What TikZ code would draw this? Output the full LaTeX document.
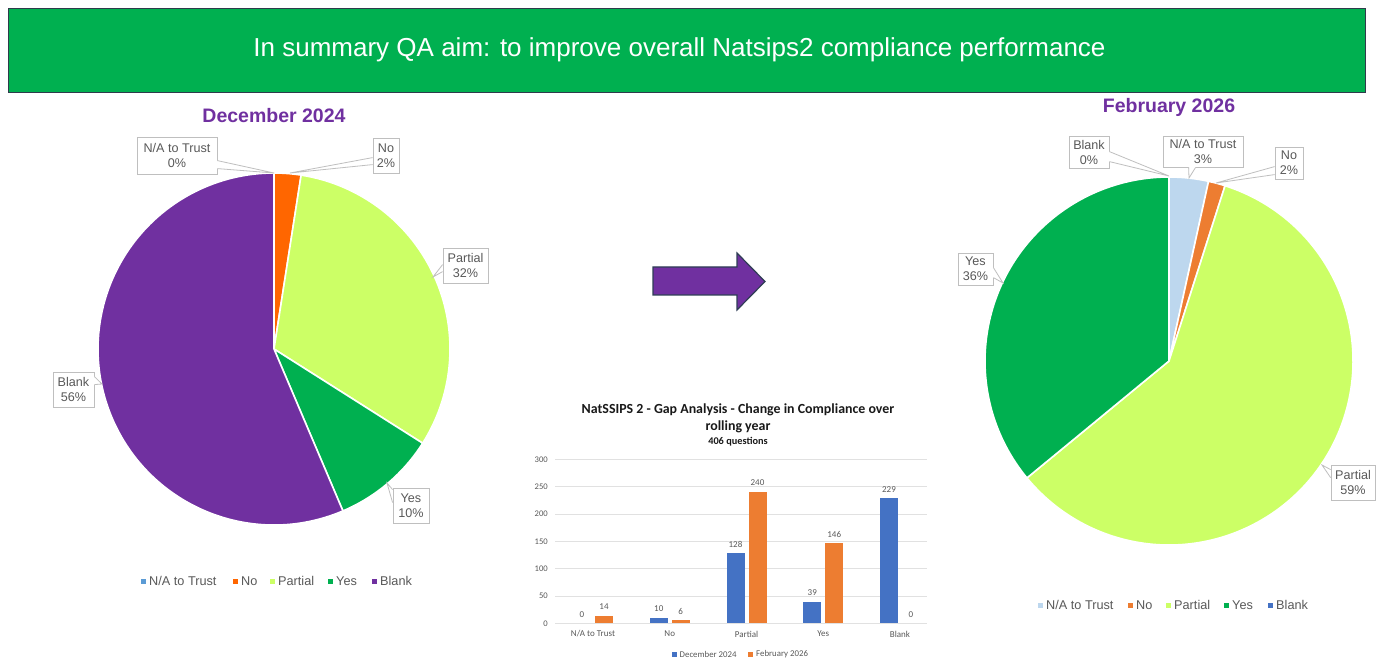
\documentclass[tikz,border=0pt]{standalone}
\usepackage{fontspec}
\setmainfont{Liberation Sans}
\newfontfamily\calfont{Carlito}
\usetikzlibrary{calc}

\definecolor{bannergreen}{HTML}{00B050}
\definecolor{bannerline}{HTML}{2F3B4C}
\definecolor{aimpurple}{HTML}{7030A0}
\definecolor{yesgreen}{HTML}{00B050}
\definecolor{partlime}{HTML}{CCFF66}
\definecolor{nored}{HTML}{FF6600}
\definecolor{noorange}{HTML}{ED7D31}
\definecolor{nablue}{HTML}{5B9BD5}
\definecolor{nalight}{HTML}{BDD7EE}
\definecolor{blankblue}{HTML}{4472C4}
\definecolor{txtgray}{HTML}{595959}
\definecolor{lblgray}{HTML}{BFBFBF}
\definecolor{gridgray}{HTML}{D9D9D9}
\definecolor{arrowline}{HTML}{2F3E55}

% one pie slice: centre, radius, start angle, end angle, colour
\newcommand\pieslice[5]{%
  \filldraw[slice, fill=#5] (#1) -- ++(#3:#2) arc[start angle=#3, end angle=#4, radius=#2] -- cycle;}
% pointer of a data label: base point, tip, base point
\newcommand\calloutwedge[3]{%
  \fill[white] #1 -- (#2) -- #3 -- cycle;
  \draw[white, line width=1.3pt] #1 -- #3;
  \draw[lblline] #1 -- (#2) -- #3;}
% legend entry: marker centre, colour, node name, text
\newcommand\legitem[4]{%
  \fill[#2] ($(#1)+(-2.5,-2.5)$) rectangle ++(5,5);
  \node[legtext] (#3) at ($(#1)+(6,0)$) {#4};}

\begin{document}
\begin{tikzpicture}[x=1pt, y=1pt, yscale=-1,
  slice/.style={draw=white, line width=1.6pt, line join=round},
  lbl/.style={draw=lblgray, fill=white, text=txtgray, line width=0.8pt, inner sep=0pt,
    align=center, font=\fontsize{12.6}{15}\selectfont},
  lblline/.style={draw=lblgray, line width=0.8pt},
  legtext/.style={text=txtgray, font=\fontsize{12.7}{15}\selectfont, anchor=west, inner sep=0pt},
  pietitle/.style={text=aimpurple, font=\bfseries\fontsize{19.5}{23}\selectfont},
  bctitle/.style={text=black!90, inner sep=0pt},
  axlbl/.style={text=txtgray, font=\calfont\fontsize{8.6}{10}\selectfont, inner sep=0pt},
  gridline/.style={draw=gridgray!80, line width=0.7pt},
  barblue/.style={fill=blankblue},
  barorange/.style={fill=noorange}
]
\useasboundingbox (0,0) rectangle (1376,660);
\fill[white] (0,0) rectangle (1376,660);

% banner
\node[draw=bannerline, line width=1.5pt, fill=bannergreen, minimum width=1357pt, minimum height=84pt,
  inner sep=0pt] (banner) at (687,50.5) {};
\node[text=white, font=\fontsize{26}{30}\selectfont, inner sep=0pt] (bannerText) at (679.5,50)
  {In summary QA aim: to improve overall Natsips2 compliance performance};

% ---------- December 2024 pie ----------
\node[pietitle] (decTitle) at (274,116) {December 2024};
\coordinate (pL) at (274,349);
\pieslice{pL}{176}{-90}{-81.133}{nored}
\pieslice{pL}{176}{-81.133}{32.365}{partlime}
\pieslice{pL}{176}{32.365}{66.946}{yesgreen}
\pieslice{pL}{176}{66.946}{270}{aimpurple}

\node[lbl, minimum width=80pt, minimum height=37pt] (lNA) at (177,155.5) {N/A to Trust\\0\%};
\coordinate (lNAt) at (274,173);
\calloutwedge{($(lNA.north east)+(0,24)$)}{lNAt}{($(lNA.north east)+(0,32)$)}

\node[lbl, minimum width=26pt, minimum height=35pt] (lNo) at (386,155.5) {No\\2\%};
\coordinate (lNot) at (290,173);
\calloutwedge{($(lNo.north west)+(0,20)$)}{lNot}{($(lNo.north west)+(0,27)$)}

\node[lbl, minimum width=45pt, minimum height=35pt] (lPa) at (465.5,265.5) {Partial\\32\%};
\coordinate (lPat) at (433,277);
\calloutwedge{($(lPa.north west)+(0,17)$)}{lPat}{($(lPa.north west)+(0,24)$)}

\node[lbl, minimum width=41pt, minimum height=35pt] (lBl) at (73.5,389.5) {Blank\\56\%};
\coordinate (lBlt) at (102,384);
\calloutwedge{($(lBl.north east)+(0,5)$)}{lBlt}{($(lBl.north east)+(0,13)$)}

\node[lbl, minimum width=36pt, minimum height=35pt] (lYe) at (411,505.5) {Yes\\10\%};
\coordinate (lYet) at (387,483);
\calloutwedge{($(lYe.north west)+(0,2)$)}{lYet}{($(lYe.north west)+(0,15)$)}

\legitem{143,581}{nablue}{lgL1}{N/A to Trust}
\legitem{235,581}{nored}{lgL2}{No}
\legitem{272,581}{partlime}{lgL3}{Partial}
\legitem{330,581}{yesgreen}{lgL4}{Yes}
\legitem{374,581}{aimpurple}{lgL5}{Blank}

% ---------- arrow ----------
\filldraw[fill=aimpurple, draw=arrowline, line width=1.2pt, line join=miter]
  (653,267) -- (737,267) -- (737,253) -- (765,281.5) -- (737,310) -- (737,295) -- (653,295) -- cycle;

% ---------- February 2026 pie ----------
\node[pietitle] (febTitle) at (1169,107) {February 2026};
\coordinate (pR) at (1169,361);
\pieslice{pR}{184}{-90}{-77.586}{nalight}
\pieslice{pR}{184}{-77.586}{-72.266}{noorange}
\pieslice{pR}{184}{-72.266}{140.542}{partlime}
\pieslice{pR}{184}{140.542}{270}{yesgreen}

\node[lbl, minimum width=40pt, minimum height=32pt] (rBl) at (1089,152) {Blank\\0\%};
\coordinate (rBlt) at (1169,176);
\calloutwedge{($(rBl.north east)+(0,16)$)}{rBlt}{($(rBl.north east)+(0,26)$)}

\node[lbl, minimum width=80pt, minimum height=31pt] (rNA) at (1203,151.5) {N/A to Trust\\3\%};
\coordinate (rNAt) at (1189,178);
\calloutwedge{($(rNA.south west)+(26,0)$)}{rNAt}{($(rNA.south west)+(33,0)$)}

\node[lbl, minimum width=28pt, minimum height=32pt] (rNo) at (1289,163) {No\\2\%};
\coordinate (rNot) at (1216,183);
\calloutwedge{($(rNo.north west)+(0,20)$)}{rNot}{($(rNo.north west)+(0,28)$)}

\node[lbl, minimum width=35pt, minimum height=32pt] (rYe) at (975.5,269) {Yes\\36\%};
\coordinate (rYet) at (1003,283);
\calloutwedge{($(rYe.north east)+(0,15)$)}{rYet}{($(rYe.north east)+(0,25)$)}

\node[lbl, minimum width=44pt, minimum height=35pt] (rPa) at (1353,482.5) {Partial\\59\%};
\coordinate (rPat) at (1322,465);
\calloutwedge{($(rPa.north west)+(0,5)$)}{rPat}{($(rPa.north west)+(0,13)$)}

\legitem{1040,605}{nalight}{lgR1}{N/A to Trust}
\legitem{1130,605}{noorange}{lgR2}{No}
\legitem{1168,605}{partlime}{lgR3}{Partial}
\legitem{1226,605}{yesgreen}{lgR4}{Yes}
\legitem{1270,605}{blankblue}{lgR5}{Blank}

% ---------- bar chart ----------
\node[bctitle, font=\calfont\bfseries\fontsize{13.9}{16}\selectfont] (bt1) at (738,410)
  {NatSSIPS 2 - Gap Analysis - Change in Compliance over};
\node[bctitle, font=\calfont\bfseries\fontsize{13.9}{16}\selectfont] (bt2) at (738,427) {rolling year};
\node[bctitle, font=\calfont\bfseries\fontsize{10.3}{12}\selectfont] (bt3) at (738,442) {406 questions};

\foreach \v in {0,50,...,300} {
  \draw[gridline] (555,{623.3-\v*0.5467}) -- (927,{623.3-\v*0.5467});
  \node[axlbl, anchor=east] (yl\v) at (548,{623.3-\v*0.5467}) {\v};
}
\foreach \i/\d/\f in {0/0/14,1/10/6,2/128/240,3/39/146,4/229/0} {
  \pgfmathsetmacro\c{593+76.75*\i}
  \ifnum\d>0 \fill[barblue] (\c-20,623.3) rectangle (\c-2,{623.3-\d*0.5467}); \fi
  \ifnum\f>0 \fill[barorange] (\c+2,623.3) rectangle (\c+20,{623.3-\f*0.5467}); \fi
  \node[axlbl, font=\calfont\fontsize{9}{10}\selectfont] (vd\i) at (\c-11,{623.3-\d*0.5467-9}) {\d};
  \node[axlbl, font=\calfont\fontsize{9}{10}\selectfont] (vf\i) at (\c+11,{623.3-\f*0.5467-9}) {\f};
}
\node[axlbl, font=\calfont\fontsize{9}{10}\selectfont] (cat0) at (593,634) {N/A to Trust};
\node[axlbl, font=\calfont\fontsize{9}{10}\selectfont] (cat1) at (669.75,634) {No};
\node[axlbl, font=\calfont\fontsize{9}{10}\selectfont] (cat2) at (746.5,634) {Partial};
\node[axlbl, font=\calfont\fontsize{9}{10}\selectfont] (cat3) at (823.25,634) {Yes};
\node[axlbl, font=\calfont\fontsize{9}{10}\selectfont] (cat4) at (900,634) {Blank};

\fill[blankblue] (671.5,652) rectangle ++(5,5);
\node[axlbl, anchor=west, font=\calfont\fontsize{8.8}{10}\selectfont] (bl1) at (679.5,654.5) {December 2024};
\fill[noorange] (748,652) rectangle ++(5,5);
\node[axlbl, anchor=west, font=\calfont\fontsize{8.8}{10}\selectfont] (bl2) at (756,654.5) {February 2026};
\end{tikzpicture}
\end{document}
